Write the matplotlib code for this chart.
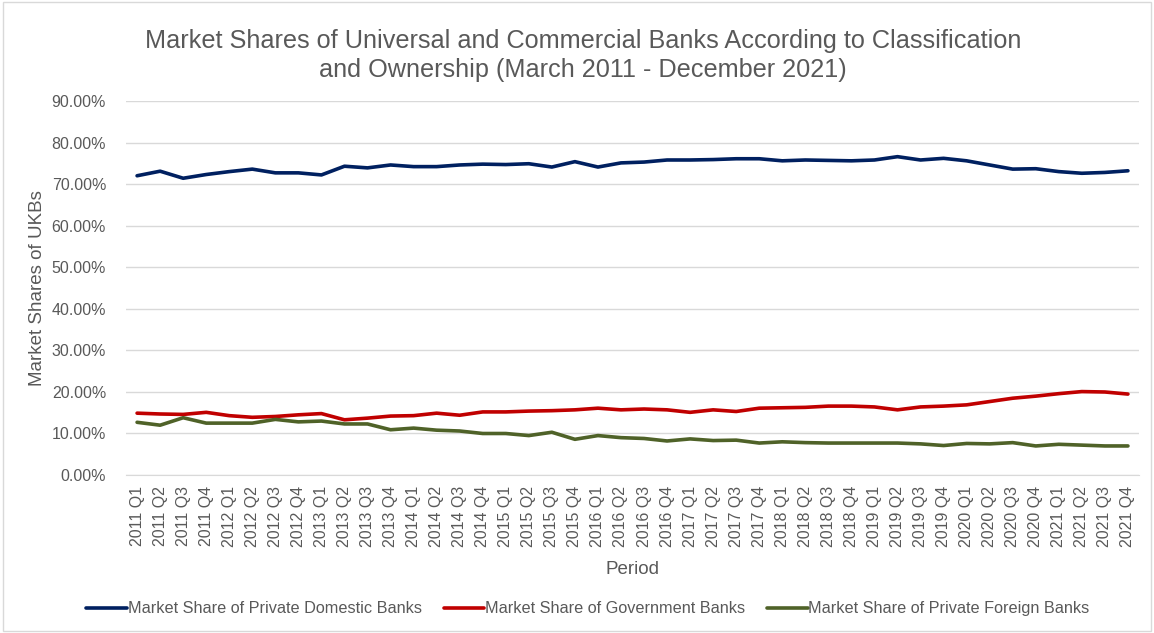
import matplotlib.pyplot as plt
from matplotlib.patches import Rectangle
from matplotlib.ticker import FuncFormatter

plt.rcParams['font.family'] = ['Liberation Sans', 'DejaVu Sans']

years = list(range(2011, 2022))
periods = [f"{y} Q{q}" for y in years for q in range(1, 5)]

domestic = [72.1, 73.2, 71.5, 72.4, 73.1, 73.7, 72.8, 72.8, 72.3, 74.4,
            74.0, 74.7, 74.3, 74.3, 74.7, 74.9, 74.8, 75.0, 74.2, 75.5,
            74.2, 75.2, 75.4, 75.9, 75.9, 76.0, 76.2, 76.2, 75.7, 75.9,
            75.8, 75.7, 75.9, 76.7, 75.9, 76.3, 75.7, 74.7, 73.7, 73.8,
            73.1, 72.7, 72.9, 73.3]
government = [14.9, 14.7, 14.6, 15.1, 14.3, 13.9, 14.1, 14.5, 14.8, 13.3,
              13.7, 14.2, 14.3, 14.9, 14.4, 15.2, 15.2, 15.4, 15.5, 15.7,
              16.1, 15.7, 15.9, 15.7, 15.1, 15.7, 15.3, 16.1, 16.2, 16.3,
              16.6, 16.6, 16.4, 15.7, 16.4, 16.6, 16.9, 17.7, 18.5, 19.0,
              19.6, 20.1, 20.0, 19.5]
foreign = [12.7, 12.0, 13.8, 12.5, 12.5, 12.5, 13.4, 12.8, 13.0, 12.3,
           12.3, 10.9, 11.3, 10.8, 10.6, 10.0, 10.0, 9.5, 10.3, 8.6,
           9.5, 9.0, 8.8, 8.2, 8.7, 8.3, 8.4, 7.7, 8.0, 7.8,
           7.7, 7.7, 7.7, 7.7, 7.5, 7.1, 7.6, 7.5, 7.8, 7.0,
           7.4, 7.2, 7.0, 7.0]

series = [
    ("Market Share of Private Domestic Banks", domestic, "#002060"),
    ("Market Share of Government Banks", government, "#C00000"),
    ("Market Share of Private Foreign Banks", foreign, "#4F6228"),
]

text_color = "#595959"

fig = plt.figure(figsize=(11.54, 6.33), dpi=100)
ax = fig.add_axes([0.1088, 0.2496, 0.8786, 0.5901])

x = range(len(periods))
for label, values, color in series:
    ax.plot(x, values, color=color, linewidth=2.6, label=label,
            solid_joinstyle='round', solid_capstyle='round')

ax.set_xlim(-0.5, len(periods) - 0.5)
ax.set_ylim(0, 90)
ax.set_yticks(range(0, 91, 10))
ax.yaxis.set_major_formatter(FuncFormatter(lambda v, p: f"{v:.2f}%"))
ax.set_xticks(list(x))
ax.set_xticklabels(periods, rotation=90)
ax.tick_params(axis='both', length=0, labelsize=11.5, colors=text_color)
ax.tick_params(axis='x', pad=8)
ax.tick_params(axis='y', pad=14)

ax.grid(axis='y', color='#D9D9D9', linewidth=1)
ax.set_axisbelow(True)
for side in ['top', 'right', 'left']:
    ax.spines[side].set_visible(False)
ax.spines['bottom'].set_color('#D9D9D9')

ax.set_xlabel("Period", fontsize=13.5, color=text_color, labelpad=10)
ax.set_ylabel("Market Shares of UKBs", fontsize=13.5, color=text_color, labelpad=4)

fig.text(0.505, 0.912,
         "Market Shares of Universal and Commercial Banks According to Classification\nand Ownership (March 2011 - December 2021)",
         ha='center', va='center', fontsize=18.2, color=text_color, linespacing=1.25)

fig.legend(loc='center', bbox_to_anchor=(0.5095, 0.038), ncol=3, frameon=False,
           fontsize=11.7, handlelength=2.5, handletextpad=0.05, columnspacing=1.35,
           labelcolor=text_color)

fig.patches.append(Rectangle((0.003, 0.003), 0.994, 0.994, transform=fig.transFigure,
                             fill=False, edgecolor='#D9D9D9', linewidth=1))

fig.savefig("out.png", dpi=100)
